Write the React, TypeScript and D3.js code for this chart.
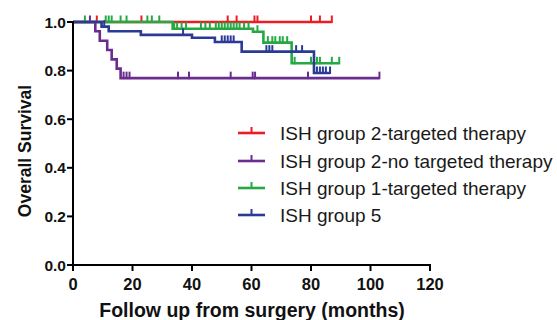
import React from "react";
import * as d3 from "d3";

const xTicks = [0, 20, 40, 60, 80, 100, 120];
const yTicks = [0, 0.2, 0.4, 0.6, 0.8, 1.0];

const legendLabels = [
  "ISH group 2-targeted therapy",
  "ISH group 2-no targeted therapy",
  "ISH group 1-targeted therapy",
  "ISH group 5",
];
const colors = ["#ED1C24", "#6B2C8F", "#25A943", "#2B3A96"];

// steps: [time, survival after event]
const redSteps: [number, number][] = [[0, 1], [87, 1]];
const redCensor = [8, 23, 52, 55, 61, 62, 80, 83, 87];

const purpleSteps: [number, number][] = [
  [0, 1], [7.5, 0.962], [9, 0.923], [11.5, 0.885], [13, 0.846], [14.7, 0.808], [16, 0.769], [103, 0.769],
];
const purpleCensor = [5.7, 17, 18, 19, 35.3, 39, 53, 60.4, 61.2, 79, 103];

const greenSteps: [number, number][] = [
  [0, 1], [33.5, 0.972], [60.5, 0.96], [64, 0.915], [73.5, 0.83], [89.5, 0.83],
];
const greenCensor = [
  4, 11, 12, 13, 16, 18, 25, 26.5, 29, 34, 35, 36.5, 38, 43, 44.5, 46, 48, 49, 50, 51, 52, 53, 54, 55, 56,
  57.5, 59, 62, 65.5, 67, 68, 69.5, 70.5, 72, 74.5, 80, 82, 83, 87, 89.5,
];

const blueSteps: [number, number][] = [
  [0, 1], [9.6, 0.981], [12, 0.962], [22.8, 0.947], [40, 0.935], [47.7, 0.918], [56.7, 0.878], [81, 0.79], [86.4, 0.79],
];
const blueCensor = [10.5, 37, 50, 51, 52, 53, 54, 65, 66, 67, 75, 77, 82, 83, 84, 85, 86.4];

const series = [
  { steps: redSteps, censor: redCensor },
  { steps: purpleSteps, censor: purpleCensor },
  { steps: greenSteps, censor: greenCensor },
  { steps: blueSteps, censor: blueCensor },
];

function survAt(steps: [number, number][], t: number) {
  let s = 1;
  for (const [tt, v] of steps) {
    if (tt <= t) s = v;
  }
  return s;
}

export default function App() {
  const W = 557, H = 320;
  const x = d3.scaleLinear().domain([0, 120]).range([73, 430]);
  const y = d3.scaleLinear().domain([0, 1]).range([265, 22]);
  const line = d3
    .line<[number, number]>()
    .x((d) => x(d[0]))
    .y((d) => y(d[1]))
    .curve(d3.curveStepAfter);
  const font = "'Liberation Sans', Arial, sans-serif";
  const legendY = [133, 161, 188, 215];

  return (
    <svg width={W} height={H} style={{ position: "absolute", left: 0, top: 0, background: "#fff" }} fontFamily={font}>
      {series.map((s, i) => (
        <g key={i}>
          <path d={line(s.steps) || ""} fill="none" stroke={colors[i]} strokeWidth={2.6} />
          {s.censor.map((c, j) => {
            const yy = y(survAt(s.steps, c));
            return (
              <line key={j} x1={x(c)} x2={x(c)} y1={yy + 1} y2={yy - 6.5} stroke={colors[i]} strokeWidth={2} />
            );
          })}
        </g>
      ))}
      {/* axes */}
      <line x1={x(0)} x2={x(0)} y1={y(0)} y2={y(1) - 1} stroke="#000" strokeWidth={2} />
      <line x1={x(0) - 1} x2={x(120) + 1} y1={y(0)} y2={y(0)} stroke="#000" strokeWidth={2} />
      {yTicks.map((t) => (
        <g key={t}>
          <line x1={x(0) - 6} x2={x(0)} y1={y(t)} y2={y(t)} stroke="#000" strokeWidth={2} />
          <text x={x(0) - 7} y={y(t)} dy="0.36em" textAnchor="end" fontSize={15.5} fontWeight="bold" fill="#111">
            {t.toFixed(1)}
          </text>
        </g>
      ))}
      {xTicks.map((t) => (
        <g key={t}>
          <line x1={x(t)} x2={x(t)} y1={y(0)} y2={y(0) + 6} stroke="#000" strokeWidth={2} />
          <text x={x(t)} y={289.5} textAnchor="middle" fontSize={16.5} fontWeight="bold" fill="#111">
            {t}
          </text>
        </g>
      ))}
      <text x={252} y={316.5} textAnchor="middle" fontSize={19.5} fontWeight="bold" fill="#111">
        Follow up from surgery (months)
      </text>
      <text
        transform={`translate(31,151) rotate(-90)`}
        textAnchor="middle"
        fontSize={17.5}
        fontWeight="bold"
        fill="#111"
      >
        Overall Survival
      </text>
      {legendLabels.map((l, i) => (
        <g key={l}>
          <line x1={238} x2={265} y1={legendY[i]} y2={legendY[i]} stroke={colors[i]} strokeWidth={2.6} />
          <line x1={251.5} x2={251.5} y1={legendY[i] + 1} y2={legendY[i] - 6} stroke={colors[i]} strokeWidth={2} />
          <text x={280} y={legendY[i] + 6.5} fontSize={19} fill="#1a1a1a">
            {l}
          </text>
        </g>
      ))}
    </svg>
  );
}
